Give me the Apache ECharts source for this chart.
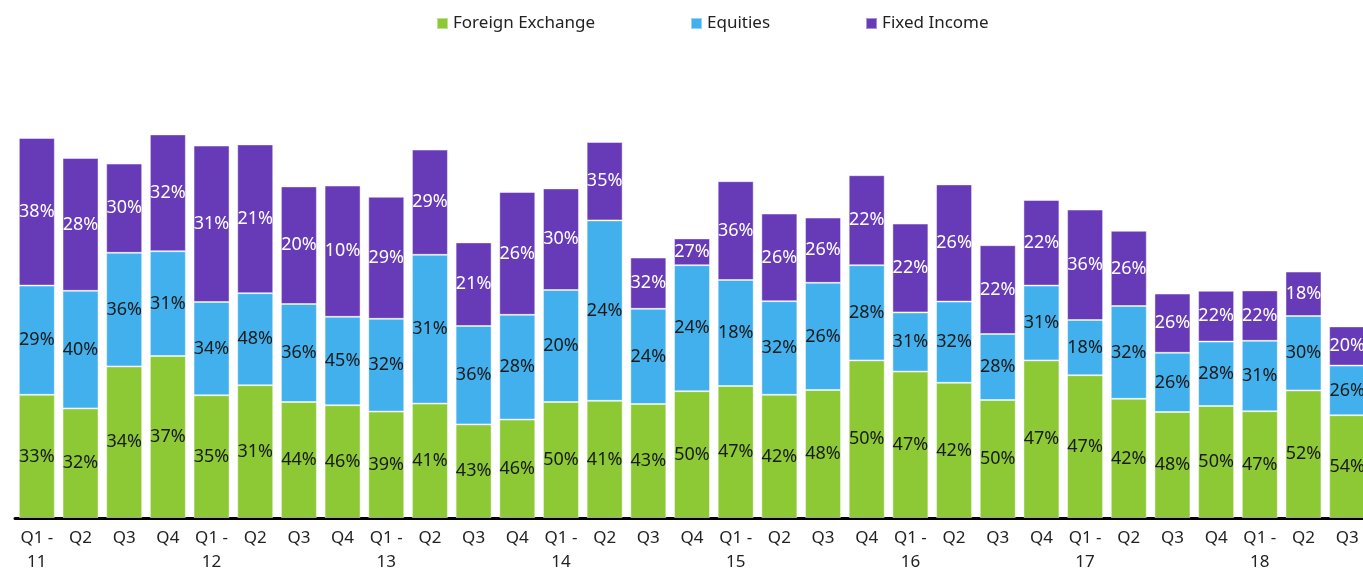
<!DOCTYPE html>
<html>
<head>
<meta charset="utf-8">
<script src="https://cdn.jsdelivr.net/npm/echarts@6/dist/echarts.min.js"></script>
<style>
  html, body { margin: 0; padding: 0; background: #fff; }
  #chart { width: 1363px; height: 572px; }
</style>
</head>
<body>
<div id="chart"></div>
<script>
// Quarterly revenue by asset class (stacked), with each segment labelled by its share of the quarter
const quarters = [
  'Q1 -\n11', 'Q2', 'Q3', 'Q4',
  'Q1 -\n12', 'Q2', 'Q3', 'Q4',
  'Q1 -\n13', 'Q2', 'Q3', 'Q4',
  'Q1 -\n14', 'Q2', 'Q3', 'Q4',
  'Q1 -\n15', 'Q2', 'Q3', 'Q4',
  'Q1 -\n16', 'Q2', 'Q3', 'Q4',
  'Q1 -\n17', 'Q2', 'Q3', 'Q4',
  'Q1 -\n18', 'Q2', 'Q3'
];

const foreignExchange = [30.8, 27.4, 37.9, 40.5, 30.7, 33.2, 29.0, 28.2, 26.6, 28.6, 23.4, 24.6, 29.0, 29.3, 28.5, 31.7,
  33.0, 30.8, 32.0, 39.4, 36.6, 33.8, 29.5, 39.4, 35.7, 29.8, 26.5, 28.0, 26.7, 31.9, 25.7];
const equities = [27.3, 29.4, 28.4, 26.2, 23.3, 23.0, 24.5, 22.1, 23.2, 37.2, 24.6, 26.2, 28.0, 45.1, 23.8, 31.5,
  26.5, 23.4, 26.8, 23.8, 14.8, 20.3, 16.5, 18.7, 13.8, 23.2, 14.8, 16.1, 17.6, 18.6, 12.4];
const fixedIncome = [36.9, 33.2, 22.3, 29.2, 39.1, 37.2, 29.4, 32.8, 30.5, 26.3, 20.9, 30.7, 25.4, 19.6, 12.8, 6.7,
  24.7, 21.9, 16.3, 22.5, 22.2, 29.3, 22.2, 21.4, 27.6, 18.8, 14.8, 12.7, 12.6, 11.1, 9.8];

// Share of each quarter (percent) shown on the segments
const fxShare = [33, 32, 34, 37, 35, 31, 44, 46, 39, 41, 43, 46, 50, 41, 43, 50, 47, 42, 48, 50, 47, 42, 50, 47, 47, 42, 48, 50, 47, 52, 54];
const eqShare = [29, 40, 36, 31, 34, 48, 36, 45, 32, 31, 36, 28, 20, 24, 24, 24, 18, 32, 26, 28, 31, 32, 28, 31, 18, 32, 26, 28, 31, 30, 26];
const fiShare = [38, 28, 30, 32, 31, 21, 20, 10, 29, 29, 21, 26, 30, 35, 32, 27, 36, 26, 26, 22, 22, 26, 22, 22, 36, 26, 26, 22, 22, 18, 20];

const FONT = '"Noto Sans", sans-serif';

function makeSeries(name, values, shares, color, labelColor) {
  return {
    name: name,
    type: 'bar',
    stack: 'total',
    barWidth: 36,
    data: values,
    itemStyle: { color: color, borderColor: 'rgba(255,255,255,0.45)', borderWidth: 1 },
    label: {
      show: true,
      position: 'inside',
      color: labelColor,
      fontFamily: FONT,
      fontSize: 18,
      formatter: function (p) { return shares[p.dataIndex] + '%'; }
    },
    emphasis: { disabled: true }
  };
}

const chart = echarts.init(document.getElementById('chart'), null, { renderer: 'canvas' });
chart.setOption({
  animation: false,
  backgroundColor: '#ffffff',
  legend: {
    top: 10,
    left: 431,
    itemWidth: 11,
    itemHeight: 11,
    itemGap: 95,
    icon: 'rect',
    textStyle: { fontFamily: FONT, fontSize: 17, color: '#222' },
    data: ['Foreign Exchange', 'Equities', 'Fixed Income']
  },
  // the plot runs a few pixels past the right edge, so the last bar is cut off
  grid: { left: 15, width: 1354, top: 118, bottom: 54, containLabel: false, outerBoundsMode: 'none' },
  xAxis: {
    type: 'category',
    data: quarters,
    axisLine: { show: true, lineStyle: { color: '#000', width: 3 } },
    axisTick: { show: false },
    axisLabel: {
      interval: 0,
      margin: 8,
      fontFamily: FONT,
      fontSize: 17,
      lineHeight: 24,
      color: '#222'
    }
  },
  yAxis: {
    type: 'value',
    min: 0,
    max: 100,
    show: false,
    splitLine: { show: false }
  },
  series: [
    makeSeries('Foreign Exchange', foreignExchange, fxShare, '#8cc935', '#1a1a1a'),
    makeSeries('Equities', equities, eqShare, '#41b0ec', '#1a1a1a'),
    makeSeries('Fixed Income', fixedIncome, fiShare, '#673ab7', '#ffffff')
  ]
});
</script>
</body>
</html>
